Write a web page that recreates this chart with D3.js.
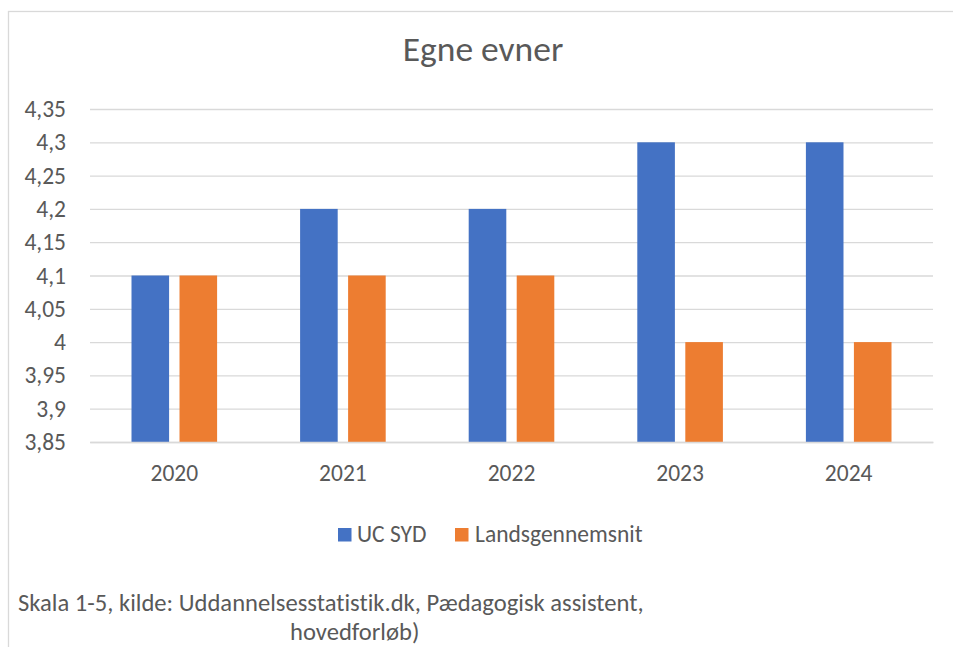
<!DOCTYPE html>
<html>
<head>
<meta charset="utf-8">
<script src="https://cdn.jsdelivr.net/npm/d3@7"></script>
<style>
  html, body { margin: 0; padding: 0; background: #fff; }
  svg { display: block; }
  text { font-family: Carlito, Calibri, "Open Sans", sans-serif; fill: #595959; font-variant-ligatures: none; font-feature-settings: "liga" 0, "clig" 0; }
</style>
</head>
<body>
<svg id="chart" width="953" height="647"></svg>
<script>
const title = "Egne evner";
const categories = ["2020", "2021", "2022", "2023", "2024"];
const seriesNames = ["UC SYD", "Landsgennemsnit"];
const ucSyd = [4.1, 4.2, 4.2, 4.3, 4.3];
const landsgennemsnit = [4.1, 4.1, 4.1, 4.0, 4.0];
const yTicks = [3.85, 3.9, 3.95, 4.0, 4.05, 4.1, 4.15, 4.2, 4.25, 4.3, 4.35];
const captionLines = ["Skala 1-5, kilde: Uddannelsesstatistik.dk, Pædagogisk assistent,", "hovedforløb)"];
const colors = ["#4472C4", "#ED7D31"];

const svg = d3.select("#chart");

// chart area border (extends beyond the visible window on right/bottom)
svg.append("rect")
  .attr("x", 8.5).attr("y", 11.5)
  .attr("width", 960).attr("height", 700)
  .attr("fill", "none").attr("stroke", "#D9D9D9").attr("stroke-width", 1.3);

const plot = { left: 90, right: 933, top: 109, bottom: 442 };

const y = d3.scaleLinear().domain([3.85, 4.35]).range([plot.bottom, plot.top]);
const x0 = d3.scaleBand().domain(categories).range([plot.left, plot.right]).padding(0);
const groupW = 85.6;
const x1 = d3.scaleBand().domain(seriesNames).range([-groupW / 2, groupW / 2]).paddingInner(0.217).paddingOuter(0);

const fmt = v => String(+v.toFixed(2)).replace(".", ",");

// y axis with gridlines
const yAxis = d3.axisLeft(y).tickValues(yTicks).tickFormat(fmt)
  .tickSizeInner(-(plot.right - plot.left)).tickSizeOuter(0).tickPadding(24);
const gy = svg.append("g").attr("transform", `translate(${plot.left},0)`).call(yAxis);
gy.select(".domain").remove();
gy.selectAll(".tick line").attr("stroke", "#D9D9D9").attr("stroke-width", 1.3);
gy.selectAll(".tick text").attr("font-size", 23.5).attr("fill", "#595959")
  .attr("font-family", "Carlito, Calibri, 'Open Sans', sans-serif");

// bars
const seriesData = [ucSyd, landsgennemsnit];
const rows = categories.map((c, i) => ({ cat: c, vals: seriesNames.map((s, j) => ({ s, j, v: seriesData[j][i] })) }));
const groups = svg.append("g").selectAll("g").data(rows).join("g")
  .attr("transform", d => `translate(${x0(d.cat) + x0.bandwidth() / 2},0)`);
groups.selectAll("rect").data(d => d.vals).join("rect")
  .attr("x", d => x1(d.s))
  .attr("width", x1.bandwidth())
  .attr("y", d => y(d.v))
  .attr("height", d => y(3.85) - y(d.v))
  .attr("fill", d => colors[d.j]);

// x axis
const xAxis = d3.axisBottom(x0).tickSize(0).tickPadding(22);
const gx = svg.append("g").attr("transform", `translate(0,${plot.bottom})`).call(xAxis);
gx.select(".domain").attr("stroke", "#D9D9D9").attr("stroke-width", 1.3);
gx.selectAll(".tick text").attr("font-size", 23.5).attr("fill", "#595959")
  .attr("font-family", "Carlito, Calibri, 'Open Sans', sans-serif");

// title
svg.append("text").attr("x", 483).attr("y", 61).attr("text-anchor", "middle")
  .attr("font-size", 35.5).text(title);

// legend
const legendPos = [{ sx: 338, tx: 357 }, { sx: 455, tx: 475 }];
const lg = svg.append("g").selectAll("g").data(seriesNames).join("g");
lg.append("rect").attr("x", (d, i) => legendPos[i].sx).attr("y", 528)
  .attr("width", 13.5).attr("height", 13.5).attr("fill", (d, i) => colors[i]);
lg.append("text").attr("x", (d, i) => legendPos[i].tx).attr("y", 542)
  .attr("font-size", 23.5).text(d => d);

// caption
svg.append("text").attr("x", 18).attr("y", 611).attr("font-size", 24.6).text(captionLines[0]);
svg.append("text").attr("x", 290).attr("y", 640).attr("font-size", 24.6).text(captionLines[1]);
</script>
</body>
</html>
